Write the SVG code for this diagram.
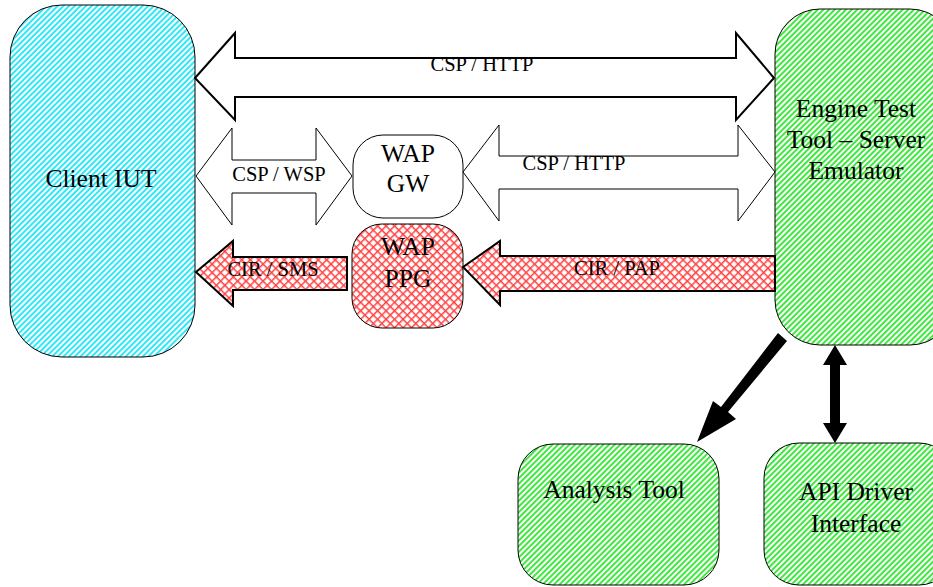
<svg xmlns="http://www.w3.org/2000/svg" width="933" height="587" viewBox="0 0 933 587">
<style>
.lbl{font-family:"Liberation Serif","Times New Roman",serif;font-size:20.5px;fill:#000;text-anchor:middle}
.big{font-family:"Liberation Serif","Times New Roman",serif;font-size:25.5px;fill:#000;text-anchor:middle}
.box{stroke:#000;stroke-width:1}
.thin{fill:#fff;stroke:#000;stroke-width:1}
.thick{fill:#fff;stroke:#000;stroke-width:2}
</style>
<defs>
<pattern id="cyan" patternUnits="userSpaceOnUse" width="4" height="4" patternTransform="rotate(45)">
<rect width="4" height="4" fill="#fff"/><rect width="2" height="4" fill="#2ee8f8"/>
</pattern>
<pattern id="green" patternUnits="userSpaceOnUse" width="4" height="4" patternTransform="rotate(45)">
<rect width="4" height="4" fill="#fff"/><rect width="2" height="4" fill="#3ee83e"/>
</pattern>
<pattern id="red" patternUnits="userSpaceOnUse" width="6" height="6" patternTransform="rotate(45)">
<rect width="6" height="6" fill="#fff"/><rect width="1.5" height="6" fill="#ff4040"/><rect width="6" height="1.5" fill="#ff4040"/>
</pattern>
</defs>
<g id="client-iut">
<rect class="box" x="10" y="5" width="185" height="352" rx="52" ry="52" fill="url(#cyan)"/>
<text class="big" x="101" y="187">Client IUT</text>
</g>
<g id="engine">
<rect class="box" x="775" y="9" width="180" height="336" rx="45" ry="45" fill="url(#green)"/>
<text class="big" x="856" y="117">Engine Test</text>
<text class="big" x="856" y="148">Tool – Server</text>
<text class="big" x="856" y="179">Emulator</text>
</g>
<g id="wap-gw">
<rect class="box" x="353" y="135" width="110" height="83" rx="30" ry="30" fill="#fff"/>
<text class="big" x="408" y="162">WAP</text>
<text class="big" x="408" y="192">GW</text>
</g>
<g id="wap-ppg">
<rect class="box" x="352" y="224" width="111" height="104" rx="30" ry="30" fill="url(#red)"/>
<text class="big" x="408" y="255">WAP</text>
<text class="big" x="408" y="287">PPG</text>
</g>
<g id="analysis-tool">
<rect class="box" x="518" y="444" width="201" height="141" rx="35" ry="35" fill="url(#green)"/>
<text class="big" x="614" y="498">Analysis Tool</text>
</g>
<g id="api-driver">
<rect class="box" x="764" y="443" width="190" height="142" rx="35" ry="35" fill="url(#green)"/>
<text class="big" x="856" y="500">API Driver</text>
<text class="big" x="856" y="532">Interface</text>
</g>
<g id="connectors">
<path class="thick" d="M195,78 L235,33 L235,58 L736,58 L736,33 L774,78 L736,120 L736,97 L235,97 L235,120 Z"/>
<text class="lbl" x="482" y="71">CSP / HTTP</text>
<path class="thin" d="M196,176 L232,128 L232,160 L316,160 L316,128 L352,176 L316,225 L316,193 L232,193 L232,225 Z"/>
<text class="lbl" x="279" y="181">CSP / WSP</text>
<path class="thin" d="M463,172 L499,125 L499,156 L738,156 L738,125 L775,172 L738,221 L738,189 L499,189 L499,221 Z"/>
<text class="lbl" x="574" y="170">CSP / HTTP</text>
<path d="M196,272 L233,241 L233,257 L347,257 L347,290 L233,290 L233,306 Z" fill="url(#red)" stroke="#000" stroke-width="2"/>
<text class="lbl" x="273" y="276">CIR / SMS</text>
<path d="M463,267 L500,241 L500,256 L775,256 L775,291 L500,291 L500,305 Z" fill="url(#red)" stroke="#000" stroke-width="2"/>
<text class="lbl" x="617" y="275">CIR / PAP</text>
<path d="M778,333 L787,341 L728,412 L736,419 L697,442 L713,401 L721,407 Z" fill="#000"/>
<path d="M835,345 L847,365 L840,365 L840,423 L847,423 L835,443 L823,423 L830,423 L830,365 L823,365 Z" fill="#000"/>
</g>
</svg>
